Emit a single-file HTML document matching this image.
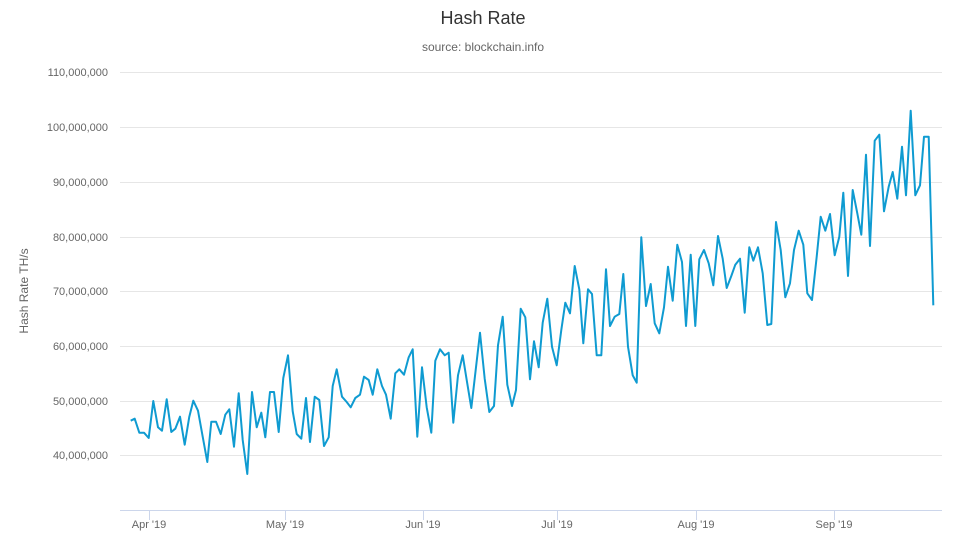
<!DOCTYPE html>
<html><head><meta charset="utf-8"><style>
body{margin:0;background:#fff;}
svg{display:block;font-family:"Liberation Sans",sans-serif;}
</style></head><body>
<svg width="966" height="550" viewBox="0 0 966 550">
<rect width="966" height="550" fill="#fff"/>
<text x="483" y="24" text-anchor="middle" font-size="18" fill="#333">Hash Rate</text>
<text x="483" y="51" text-anchor="middle" font-size="12" fill="#666">source: blockchain.info</text>
<g stroke="#e6e6e6" stroke-width="1">
<line x1="120" x2="942" y1="72.5" y2="72.5"/>
<line x1="120" x2="942" y1="127.5" y2="127.5"/>
<line x1="120" x2="942" y1="182.5" y2="182.5"/>
<line x1="120" x2="942" y1="237.5" y2="237.5"/>
<line x1="120" x2="942" y1="291.5" y2="291.5"/>
<line x1="120" x2="942" y1="346.5" y2="346.5"/>
<line x1="120" x2="942" y1="401.5" y2="401.5"/>
<line x1="120" x2="942" y1="455.5" y2="455.5"/>
</g>
<line x1="120" x2="942" y1="510.5" y2="510.5" stroke="#ccd6eb"/>
<g stroke="#ccd6eb">
<line x1="149.5" x2="149.5" y1="510" y2="520"/>
<line x1="285.5" x2="285.5" y1="510" y2="520"/>
<line x1="423.5" x2="423.5" y1="510" y2="520"/>
<line x1="557.5" x2="557.5" y1="510" y2="520"/>
<line x1="696.5" x2="696.5" y1="510" y2="520"/>
<line x1="834.5" x2="834.5" y1="510" y2="520"/>
</g>
<g font-size="11" fill="#666" text-anchor="end">
<text x="108" y="76">110,000,000</text>
<text x="108" y="131">100,000,000</text>
<text x="108" y="186">90,000,000</text>
<text x="108" y="241">80,000,000</text>
<text x="108" y="295">70,000,000</text>
<text x="108" y="350">60,000,000</text>
<text x="108" y="405">50,000,000</text>
<text x="108" y="459">40,000,000</text>
</g>
<g font-size="11" fill="#666" text-anchor="middle">
<text x="149" y="528">Apr '19</text>
<text x="285" y="528">May '19</text>
<text x="423" y="528">Jun '19</text>
<text x="557" y="528">Jul '19</text>
<text x="696" y="528">Aug '19</text>
<text x="834" y="528">Sep '19</text>
</g>
<text transform="translate(28,291) rotate(-90)" text-anchor="middle" font-size="12" fill="#666">Hash Rate TH/s</text>
<polyline fill="none" stroke="#0f9bd1" stroke-width="2" stroke-linejoin="round" points="
130.7,420.7 134.7,418.7 139.3,432.7 144,432.7 148.7,438 153.3,401 158,427.3 162,430.7 166.7,399.3 171.3,432 175.3,428.7 180,416.7 184.7,444.7 189.3,416.7 193.3,400.7 198,410.7 202.7,436.7 207.3,462 211.3,421.7 216,421.7 220.7,434 225.3,414.7 229.3,409.3 234,446.7 238.7,393.3 242.7,440 247.3,474 252,392 256.7,427.3 261.3,412.7 265.3,437.3 270,392 274,392 278.7,432 283.3,378 288,355.3 292.7,411.3 296.7,434 301.3,438.7 306,398 310,442 314.7,396.7 319.3,400 324,446 328.7,437.3 332.7,386 336.7,369.3 342,396.7 346.7,402 350.7,407.3 355.3,398 360,394.7 364,376.7 368.7,380 372.7,394.7 377.3,369.3 382,386 386,394.7 390.7,418.7 395.3,373.3 399.3,369.3 404,374.7 408.7,357.3 412.7,349.3 417.3,436.7 422,367.3 426.7,407.3 431.3,432.7 435.3,360.7 440,349.3 444.7,355.3 448.7,352.7 453.3,422.7 458,375.3 462.7,355.3 466.7,380 471.3,408 476,367.3 480,332.7 484.7,378.7 489.3,412 494,406 498,345.3 502.7,316.7 507.3,384.7 512,406 516,390 520.7,308.7 525.3,317.3 530,379.3 534,341.3 538.7,367.3 542.7,322.7 547.3,298.7 552,346.7 556.7,365.3 561.3,330 565.3,302.7 570,313.3 574.7,266 579.3,289.3 583.3,343.3 588,289.3 592,294 596.7,355.3 601.3,355.3 606,269.3 610,326 614.7,316.7 619.3,314 623.3,274 628,346.7 632.7,375.3 636.7,382.7 641.3,237.3 646,306 650.7,284 654.7,323.3 659.3,333.3 664,307.3 668,266.7 672.7,300.7 677.3,244.7 682,262 686,326 690.7,254.7 695.3,326 699.3,259.3 704,250 708.7,263.3 713.3,285.3 718,236 722.7,258.7 726.7,288 731.3,276 735.3,264.7 740,258.7 744.7,312.7 749.3,247.3 753.3,260.7 758,247.3 762.7,273.3 767.3,325 771.3,324 776,222 780.7,250 785.3,297.3 790,283.3 794,250 798.7,230.7 803.3,244.7 807.3,293.3 812,300 816.7,256.7 820.7,216.7 825.3,230.7 830,214 834.7,255.3 839.3,236.7 843.3,192.7 848,276 852.7,190 857.3,213.3 861.3,234.7 866,154.7 870,246 874.7,140.7 879.3,134.7 884,211.3 888.7,186.7 892.7,172 897.3,198.7 902,146.7 906,195.3 910.7,110.7 915.3,195.3 920,185.3 924,136.7 928.7,136.7 933.3,305.3"/>
</svg>
</body></html>
